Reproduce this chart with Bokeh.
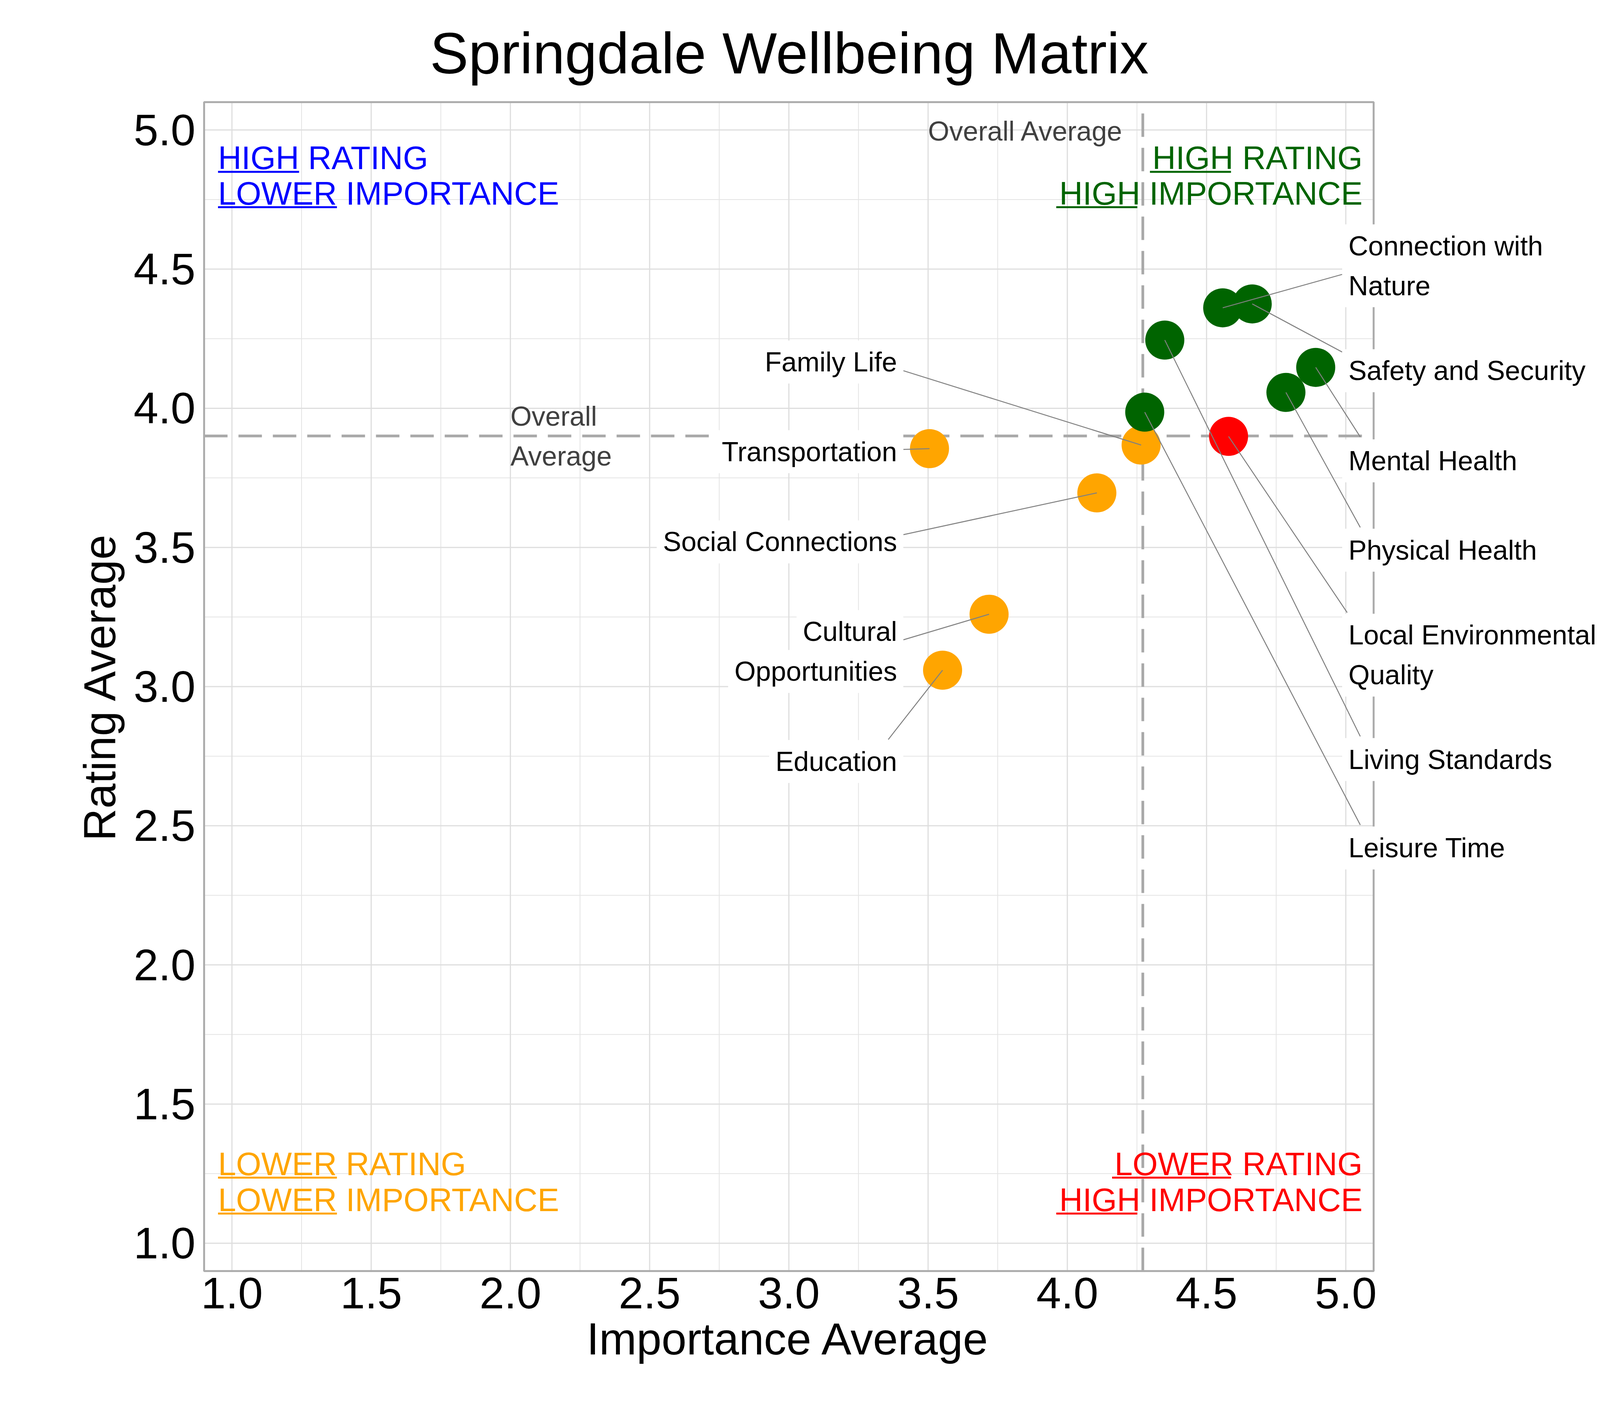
import numpy as np
from bokeh.plotting import figure
from bokeh.models import (ColumnDataSource, FixedTicker, Label, PrintfTickFormatter, Range1d, Title)
from bokeh.core.properties import value
from bokeh.embed import file_html
from bokeh.resources import INLINE

# ---------------- data ----------------
categories = ["Transportation", "Family Life", "Social Connections", "Cultural Opportunities",
              "Education", "Leisure Time", "Living Standards", "Connection with Nature",
              "Safety and Security", "Mental Health", "Physical Health",
              "Local Environmental Quality"]
importance = [3.505, 4.265, 4.106, 3.719, 3.552, 4.278, 4.350, 4.558, 4.664, 4.892, 4.785, 4.579]
rating = [3.855, 3.868, 3.696, 3.260, 3.059, 3.986, 4.245, 4.361, 4.375, 4.147, 4.057, 3.899]

x_ticks = [1.0, 1.5, 2.0, 2.5, 3.0, 3.5, 4.0, 4.5, 5.0]
x_minor = [1.25, 1.75, 2.25, 2.75, 3.25, 3.75, 4.25, 4.75]
y_ticks = [1.0, 1.5, 2.0, 2.5, 3.0, 3.5, 4.0, 4.5, 5.0]
y_minor = [1.25, 1.75, 2.25, 2.75, 3.25, 3.75, 4.25, 4.75]

title_text = "Springdale Wellbeing Matrix"
x_title = "Importance Average"
y_title = "Rating Average"
avg_text = "Overall Average"

# ---------------- layout (annotation placement, data units) ----------------
FONT = "Liberation Sans"
PANEL = (0.9, 5.1)                 # plotting panel limits (both axes)
PW, PH = 2994, 2993                # panel size in px
PXX = (PANEL[1] - PANEL[0]) / PW
PXY = (PANEL[1] - PANEL[0]) / PH
EDGE = 4                           # frame margin around panel (px) so the border is not clipped
EXTRA_R = 606                      # room right of the panel for the labels (px)
FW = PW + 2 * EDGE + EXTRA_R
FH = PH + 2 * EDGE
XR = (PANEL[0] - EDGE * PXX, PANEL[1] + (EDGE + EXTRA_R) * PXX)
YR = (PANEL[0] - EDGE * PXY, PANEL[1] + EDGE * PXY)

# label lines, box edge x, block centre y, alignment, leader end (x, y)
label_layout = {
    "Connection with Nature": (["Connection with", "Nature"], 4.987, 4.512, "left", (4.987, 4.481)),
    "Safety and Security": (["Safety and Security"], 4.987, 4.135, "left", (4.987, 4.202)),
    "Mental Health": (["Mental Health"], 4.987, 3.811, "left", (5.052, 3.897)),
    "Physical Health": (["Physical Health"], 4.987, 3.490, "left", (5.052, 3.572)),
    "Local Environmental Quality": (["Local Environmental", "Quality"], 4.987, 3.113, "left", (5.005, 3.266)),
    "Living Standards": (["Living Standards"], 4.987, 2.738, "left", (5.052, 2.821)),
    "Leisure Time": (["Leisure Time"], 4.987, 2.420, "left", (5.052, 2.503)),
    "Family Life": (["Family Life"], 3.411, 4.166, "right", (3.411, 4.135)),
    "Transportation": (["Transportation"], 3.411, 3.844, "right", (3.411, 3.852)),
    "Social Connections": (["Social Connections"], 3.411, 3.520, "right", (3.411, 3.546)),
    "Cultural Opportunities": (["Cultural", "Opportunities"], 3.411, 3.126, "right", (3.411, 3.168)),
    "Education": (["Education"], 3.411, 2.731, "right", (3.357, 2.810)),
}
LINE_GAP = 102 * PXY
LABEL_PX = 70

GREEN, ORANGE, RED, BLUE = "#006400", "#FFA500", "#FF0000", "#0000FF"

# quadrant texts: (text, underlined first word, anchor x, baseline y, align, colour)
quad_lines = [
    ("HIGH RATING", "HIGH", 0.95, 4.858, "left", BLUE),
    ("LOWER IMPORTANCE", "LOWER", 0.95, 4.731, "left", BLUE),
    ("HIGH RATING", "HIGH", 5.06, 4.858, "right", GREEN),
    ("HIGH IMPORTANCE", "HIGH", 5.06, 4.731, "right", GREEN),
    ("LOWER RATING", "LOWER", 0.95, 1.244, "left", ORANGE),
    ("LOWER IMPORTANCE", "LOWER", 0.95, 1.115, "left", ORANGE),
    ("LOWER RATING", "LOWER", 5.06, 1.244, "right", RED),
    ("HIGH IMPORTANCE", "HIGH", 5.06, 1.115, "right", RED),
]
QUAD_PX = 83
AVG_PX = 70
AXT_PX = 115
MID = 0.35  # distance baseline -> text middle, in em
# Arial / Liberation Sans advance widths (per 1000 em)
ADV = {"H": 722, "I": 278, "G": 778, "L": 556, "O": 778, "W": 944, "E": 667, "R": 722,
       "A": 667, "T": 611, "N": 722, "M": 833, "P": 667, "C": 722, " ": 278,
       "m": 833, "p": 556, "o": 556, "r": 333, "t": 278, "a": 556, "n": 556, "c": 500,
       "e": 556, "v": 500, "g": 556}


def text_w(s, px):
    return sum(ADV[c] for c in s) / 1000.0 * px * PXX


def mid_y(baseline, px):
    return baseline + MID * px * PXY


# ---------------- derived ----------------
avg_imp = float(np.mean(importance))
avg_rat = float(np.mean(rating))


def quad_color(i, r):
    if r >= avg_rat:
        return GREEN if i >= avg_imp else BLUE
    return RED if i >= avg_imp else ORANGE


colors = [quad_color(i, r) for i, r in zip(importance, rating)]
src = ColumnDataSource(dict(cat=categories, imp=importance, rat=rating, color=colors))

p = figure(frame_width=FW, frame_height=FH, x_range=Range1d(*XR), y_range=Range1d(*YR),
           output_backend="svg", toolbar_location=None,
           min_border_left=522 - EDGE, min_border_top=261 - EDGE, min_border_right=20,
           min_border_bottom=20,
           title=title_text, y_axis_label=y_title)
p.background_fill_color = "white"
p.border_fill_color = "white"
p.outline_line_color = None
p.xgrid.visible = False
p.ygrid.visible = False

p.title.text_font = FONT
p.title.text_font_size = "148px"
p.title.text_font_style = "normal"
p.title.align = "left"
p.title.offset = 582
p.title.text_color = "black"
p.title.standoff = 77

for ax, tk, mn in ((p.xaxis, x_ticks, x_minor), (p.yaxis, y_ticks, y_minor)):
    ax.ticker = FixedTicker(ticks=tk, minor_ticks=mn)
    ax.formatter = PrintfTickFormatter(format="%.1f")
    ax.bounds = PANEL
    ax.axis_line_color = None
    ax.major_tick_line_color = None
    ax.minor_tick_line_color = None
    ax.major_tick_out = 0
    ax.major_tick_in = 0
    ax.minor_tick_out = 0
    ax.major_label_text_font = FONT
    ax.major_label_text_font_size = "114px"
    ax.major_label_text_color = "black"
    ax.axis_label_text_font = FONT
    ax.axis_label_text_font_size = f"{AXT_PX}px"
    ax.axis_label_text_font_style = "normal"
    ax.axis_label_text_color = "black"
p.xaxis.major_label_standoff = 13
p.yaxis.major_label_standoff = 18
p.yaxis.axis_label_standoff = 20

# x axis title, centred on the panel (not on the wider frame)
x_title_offset = EDGE + PW / 2.0 - text_w(x_title, AXT_PX) / PXX / 2.0
p.add_layout(Title(text=x_title, align="left", offset=x_title_offset, standoff=19,
                   text_font=FONT, text_font_size=f"{AXT_PX}px", text_font_style="normal",
                   text_color="black"), "below")

# grid (limited to the panel)
p0, p1 = PANEL
p.segment(x0=x_minor, y0=[p0] * len(x_minor), x1=x_minor, y1=[p1] * len(x_minor),
          line_color="#E4E4E4", line_width=2)
p.segment(x0=[p0] * len(y_minor), y0=y_minor, x1=[p1] * len(y_minor), y1=y_minor,
          line_color="#E4E4E4", line_width=2)
p.segment(x0=x_ticks, y0=[p0] * len(x_ticks), x1=x_ticks, y1=[p1] * len(x_ticks),
          line_color="#DEDEDE", line_width=3)
p.segment(x0=[p0] * len(y_ticks), y0=y_ticks, x1=[p1] * len(y_ticks), y1=y_ticks,
          line_color="#DEDEDE", line_width=3)

# average lines
p.segment(x0=[avg_imp], y0=[p0], x1=[avg_imp], y1=[p1], line_color="#A9A9A9",
          line_width=7, line_dash="60 28")
p.segment(x0=[p0], y0=[avg_rat], x1=[p1], y1=[avg_rat], line_color="#A9A9A9",
          line_width=7, line_dash="60 28")

# panel border
p.quad(left=[p0], right=[p1], bottom=[p0], top=[p1], fill_color=None,
       line_color="#ADADAD", line_width=5)

# average texts
p.text(x=[avg_imp - 0.069], y=[mid_y(4.961, AVG_PX)], text=[avg_text], text_align="right",
       text_baseline="middle", text_font=value(FONT), text_font_size=value(f"{AVG_PX}px"),
       text_color="#404040")
p.text(x=[2.0, 2.0], y=[mid_y(3.937, AVG_PX), mid_y(3.794, AVG_PX)], text=avg_text.split(" "),
       text_align="left", text_baseline="middle", text_font=value(FONT),
       text_font_size=value(f"{AVG_PX}px"), text_color="#404040")

# quadrant texts + underlines
ux0, ux1, uy, ucol = [], [], [], []
for txt, word, ax_, by, al, col in quad_lines:
    p.text(x=[ax_], y=[mid_y(by, QUAD_PX)], text=[txt], text_align=al, text_baseline="middle",
           text_font=value(FONT), text_font_size=value(f"{QUAD_PX}px"), text_color=col)
    start = ax_ if al == "left" else ax_ - text_w(txt, QUAD_PX)
    ux0.append(start)
    ux1.append(start + text_w(word, QUAD_PX))
    uy.append(by - 6 * PXY)
    ucol.append(col)
p.segment(x0=ux0, y0=uy, x1=ux1, y1=uy, line_color=ucol, line_width=5)

# points
p.scatter(x="imp", y="rat", size=100, fill_color="color", line_color=None, source=src)

# leader lines
lx0, ly0, lx1, ly1 = [], [], [], []
for c, i, r in zip(categories, importance, rating):
    ex, ey = label_layout[c][4]
    lx0.append(i); ly0.append(r); lx1.append(ex); ly1.append(ey)
p.segment(x0=lx0, y0=ly0, x1=lx1, y1=ly1, line_color="#808080", line_width=2.5)

# labels
for c in categories:
    lines, tx, ty, al, _ = label_layout[c]
    n = len(lines)
    for k, line in enumerate(lines):
        yy = ty + ((n - 1) / 2.0 - k) * LINE_GAP
        p.add_layout(Label(x=tx, y=yy, text=line, text_align=al, text_baseline="middle",
                           text_font=FONT, text_font_size=f"{LABEL_PX}px", text_color="black",
                           background_fill_color="white", padding=16, level="overlay"))

open("out.html", "w").write(file_html(p, INLINE))
